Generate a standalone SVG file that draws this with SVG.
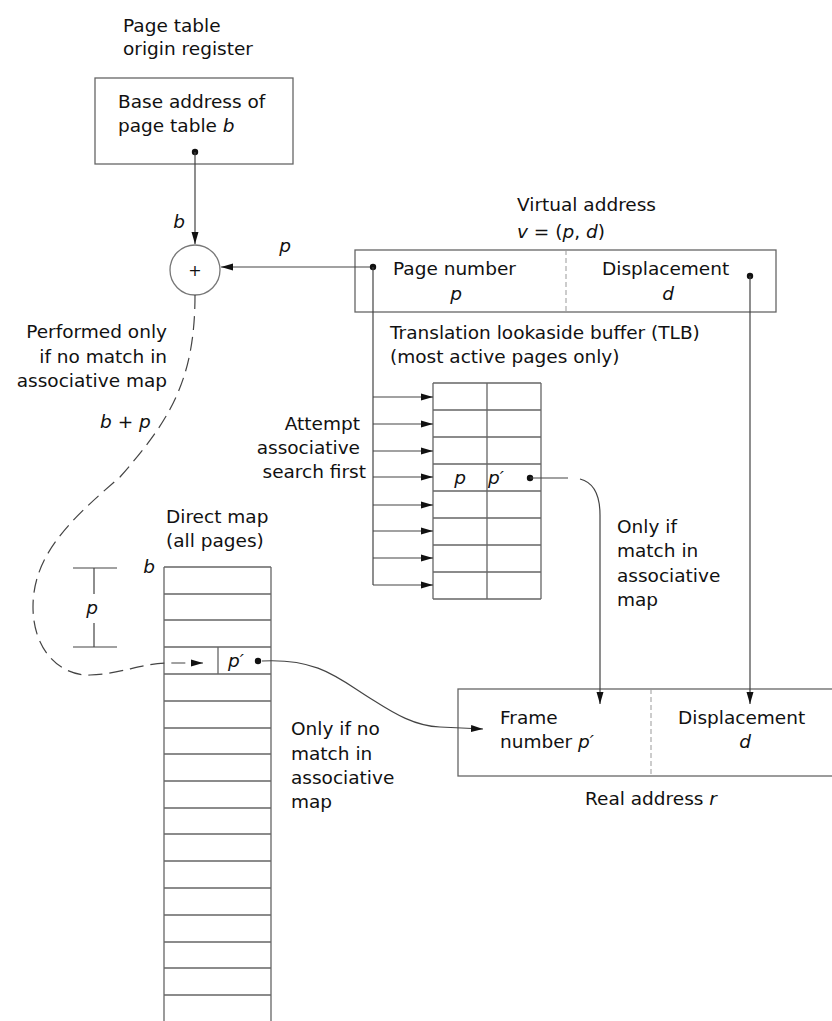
<svg xmlns="http://www.w3.org/2000/svg" width="832" height="1021" viewBox="0 0 832 1021">
<defs>
<marker id="ah" viewBox="0 0 12 8" refX="12" refY="4" markerWidth="12" markerHeight="8" markerUnits="userSpaceOnUse" orient="auto"><path d="M0,0.5 L12,4 L0,7.5 z" fill="#111"/></marker>
</defs>
<style>
text{font-family:"DejaVu Sans","Open Sans","Liberation Sans",sans-serif;font-size:18.5px;fill:#111}
.i{font-style:italic}
.e{text-anchor:end}
.m{text-anchor:middle}
.ln{stroke:#444;stroke-width:1.2;fill:none}
.box{fill:none;stroke:#666;stroke-width:1.3}
.grid{stroke:#666;stroke-width:1.3;fill:none}
.div{stroke:#999;stroke-width:1;stroke-dasharray:5 3;fill:none}
.dash{stroke-dasharray:14 7}
.dot{fill:#111}
</style>
<rect width="832" height="1021" fill="#fff"/>

<g id="page-table-origin-register">
<text x="123" y="32">Page table</text>
<text x="123" y="55">origin register</text>
<rect class="box" x="95" y="78" width="198" height="86"/>
<text x="118" y="108">Base address of</text>
<text x="118" y="132">page table <tspan class="i">b</tspan></text>
<circle class="dot" cx="195" cy="152" r="3.2"/>
</g>

<g id="adder">
<circle cx="195" cy="270" r="25" fill="#fff" stroke="#777" stroke-width="1.3"/>
<text x="195" y="276" class="m" style="font-size:16px">+</text>
</g>

<g id="virtual-address">
<text x="517" y="211">Virtual address</text>
<text x="517" y="238"><tspan class="i">v</tspan> = (<tspan class="i">p</tspan>, <tspan class="i">d</tspan>)</text>
<rect class="box" x="355" y="250" width="421" height="62"/>
<line class="div" x1="566" y1="250" x2="566" y2="312"/>
<text x="393" y="275">Page number</text>
<text x="456" y="300" class="m i">p</text>
<text x="602" y="275">Displacement</text>
<text x="668" y="300" class="m i">d</text>
<circle class="dot" cx="373" cy="267" r="3.2"/>
<circle class="dot" cx="750" cy="276" r="3.2"/>
</g>

<g id="tlb">
<text x="390" y="339">Translation lookaside buffer (TLB)</text>
<text x="390" y="363">(most active pages only)</text>
<path class="grid" d="M433,383 H541 M433,410 H541 M433,437 H541 M433,464 H541 M433,491 H541 M433,518 H541 M433,545 H541 M433,572 H541 M433,599 H541 M433,383 V599 M487,383 V599 M541,383 V599"/>
<text x="460" y="484" class="m i">p</text>
<text x="496" y="484" class="m i">p′</text>
<circle class="dot" cx="530" cy="478" r="3.2"/>
</g>

<g id="direct-map">
<text x="166" y="523">Direct map</text>
<text x="166" y="547">(all pages)</text>
<text x="149" y="573" class="m i">b</text>
<path class="grid" d="M164,567 H271 M164,594 H271 M164,620 H271 M164,647 H271 M164,674 H271 M164,701 H271 M164,728 H271 M164,754 H271 M164,781 H271 M164,808 H271 M164,834 H271 M164,861 H271 M164,888 H271 M164,915 H271 M164,942 H271 M164,968 H271 M164,995 H271 M164,567 V1021 M271,567 V1021 M218,647 V674"/>
<text x="236" y="667" class="m i">p′</text>
<circle class="dot" cx="258" cy="661" r="3.2"/>
<path class="ln" d="M73,568 H117 M73,647 H117 M94,568 V594 M94,623 V647"/>
<text x="92" y="614" class="m i">p</text>
</g>

<g id="real-address">
<rect class="box" x="458" y="689" width="380" height="87"/>
<line class="div" x1="651" y1="689" x2="651" y2="776"/>
<text x="500" y="724">Frame</text>
<text x="500" y="748">number <tspan class="i">p′</tspan></text>
<text x="678" y="724">Displacement</text>
<text x="745" y="748" class="m i">d</text>
<text x="585" y="805">Real address <tspan class="i">r</tspan></text>
</g>

<g id="labels">
<text x="167" y="338" class="e">Performed only</text>
<text x="167" y="363" class="e">if no match in</text>
<text x="167" y="387" class="e">associative map</text>
<text x="100" y="428"><tspan class="i">b</tspan> + <tspan class="i">p</tspan></text>
<text x="360" y="430" class="e">Attempt</text>
<text x="360" y="454" class="e">associative</text>
<text x="366" y="478" class="e">search first</text>
<text x="617" y="533">Only if</text>
<text x="617" y="557">match in</text>
<text x="617" y="582">associative</text>
<text x="617" y="606">map</text>
<text x="291" y="735">Only if no</text>
<text x="291" y="760">match in</text>
<text x="291" y="784">associative</text>
<text x="291" y="808">map</text>
<text x="179" y="228" class="m i">b</text>
<text x="285" y="252" class="m i">p</text>
</g>

<g id="connectors">
<path class="ln" d="M195,152 V244" marker-end="url(#ah)"/>
<path class="ln" d="M370,267 H221" marker-end="url(#ah)"/>
<path class="ln" d="M373,267 V585"/>
<path class="ln" d="M373,397 H433" marker-end="url(#ah)"/>
<path class="ln" d="M373,424 H433" marker-end="url(#ah)"/>
<path class="ln" d="M373,451 H433" marker-end="url(#ah)"/>
<path class="ln" d="M373,477 H433" marker-end="url(#ah)"/>
<path class="ln" d="M373,505 H433" marker-end="url(#ah)"/>
<path class="ln" d="M373,531 H433" marker-end="url(#ah)"/>
<path class="ln" d="M373,558 H433" marker-end="url(#ah)"/>
<path class="ln" d="M373,585 H433" marker-end="url(#ah)"/>
<path class="ln" d="M530,478 H568 M580,479 Q600,484 600,515 V704" marker-end="url(#ah)"/>
<path class="ln" d="M750,276 V704" marker-end="url(#ah)"/>
<path class="ln dash" d="M195,295 C195,380 170,420 120,477 C70,520 33,555 33,607 C33,650 60,676 90,675 C120,674 140,664 165,663 L203,663" marker-end="url(#ah)"/>
<path class="ln" d="M262,661 C320,658 340,680 373,700 C395,714 415,726 440,727 L483,729" marker-end="url(#ah)"/>
</g>
</svg>
